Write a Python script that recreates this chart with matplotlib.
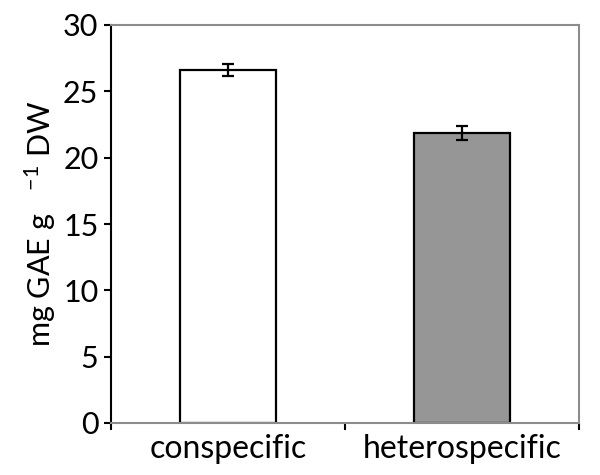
import matplotlib
matplotlib.use('Agg')
import matplotlib.pyplot as plt
import numpy as np

plt.rcParams['font.family'] = ['Lato', 'DejaVu Sans']
plt.rcParams['mathtext.fontset'] = 'custom'
plt.rcParams['mathtext.rm'] = 'Lato'
plt.rcParams['mathtext.default'] = 'rm'

categories = ['conspecific', 'heterospecific']
values = [26.6, 21.85]
errors = [0.43, 0.53]
bar_colors = ['white', '#969696']

fig = plt.figure(figsize=(6, 4.75), dpi=100)
ax = fig.add_axes([111 / 600, 1 - 423 / 475, 468 / 600, 398 / 475])

x = np.arange(len(categories))
ax.bar(x, values, width=0.41, color=bar_colors, edgecolor='black', linewidth=1.6,
       yerr=errors, error_kw=dict(ecolor='black', elinewidth=1.6, capsize=4.3, capthick=1.6),
       zorder=2)

ax.set_xlim(-0.5, 1.5)
ax.set_ylim(0, 30)
ax.set_yticks(range(0, 31, 5))
ax.tick_params(axis='y', labelsize=22, direction='out', length=5, width=1.5, pad=4)

# x 刻度在类别边界处，标签在类别中心
ax.set_xticks([-0.5, 0.5, 1.5])
ax.set_xticklabels([])
ax.set_xticks(x, minor=True)
ax.set_xticklabels(categories, minor=True, fontsize=23)
ax.tick_params(axis='x', which='major', direction='out', length=5, width=1.5, color='black')
ax.tick_params(axis='x', which='minor', length=0, pad=8)

ax.spines['left'].set_color('black')
ax.spines['left'].set_linewidth(1.5)
for side in ['top', 'right', 'bottom']:
    ax.spines[side].set_color('#8c8c8c')
    ax.spines[side].set_linewidth(1.5)

ax.set_ylabel(r'mg GAE g   $^{-1}$ DW', fontsize=22, labelpad=4)

plt.savefig('out.png', dpi=100)
